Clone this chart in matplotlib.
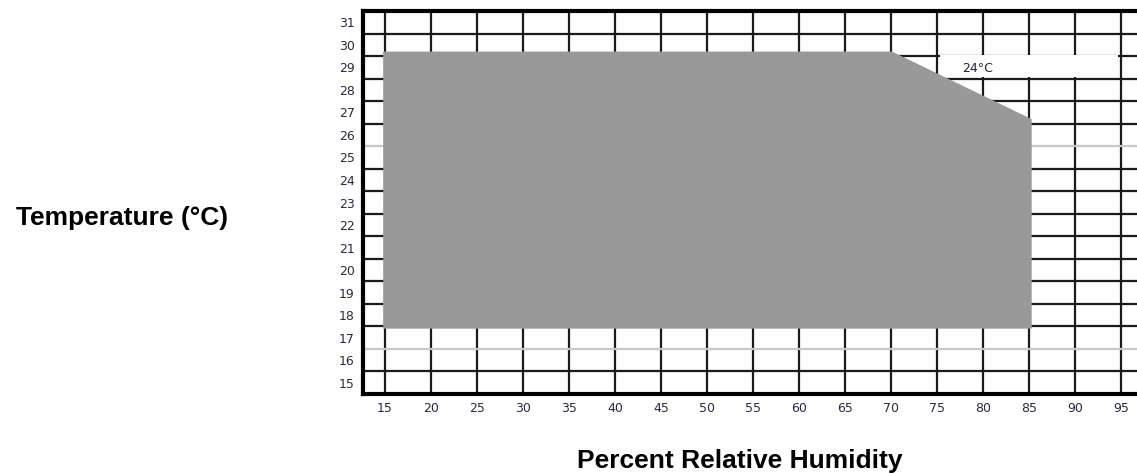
import matplotlib.pyplot as plt
from matplotlib.patches import Polygon, Rectangle

# humidity (%) / temperature (°C) grid
humidity_ticks = list(range(15, 100, 5))
temp_ticks = list(range(15, 32))

# operating envelope (gray area)
env_humidity = [14.8, 70.1, 85.3, 85.3, 14.8]
env_temp = [29.7, 29.7, 26.7, 17.4, 17.4]

label_text = '24°C'
label_pos = (79.4, 28.95)

fig = plt.figure(figsize=(11.37, 4.73), dpi=100)
ax = fig.add_axes([363 / 1137, 1 - 394 / 473, 1 - 363 / 1137, (394 - 11) / 473])
ax.set_xlim(12.6, 96.75)
ax.set_ylim(14.5, 31.5)

# grid lines
for x in humidity_ticks:
    ax.axvline(x, color='#1a1a1a', lw=1.6, zorder=1)
for y in temp_ticks[:-1]:
    c = '#c8c8c8' if (y + 0.5) in (16.5, 25.5) else '#1a1a1a'
    ax.axhline(y + 0.5, color=c, lw=1.6, zorder=1)

ax.add_patch(Polygon(list(zip(env_humidity, env_temp)), closed=True,
                     facecolor='#999999', edgecolor='none', zorder=3))

# white box behind the 24°C note
ax.add_patch(Rectangle((75.3, 28.56), 19.4, 0.99, facecolor='white',
                       edgecolor='none', zorder=2))
ax.text(label_pos[0], label_pos[1], label_text, ha='center', va='center',
        fontsize=9, color='#222233', zorder=4)

ax.set_xticks(humidity_ticks)
ax.set_yticks(temp_ticks)
ax.tick_params(length=0, labelsize=9, labelcolor='#2a2a3a')
ax.tick_params(axis='x', pad=6)
ax.tick_params(axis='y', pad=6)

for side in ['left', 'top', 'bottom']:
    ax.spines[side].set_linewidth(3)
    ax.spines[side].set_color('black')
    ax.spines[side].set_zorder(5)
ax.spines['right'].set_visible(False)

fig.text(122 / 1137, 1 - 225 / 473, 'Temperature (°C)', ha='center', va='baseline',
         fontsize=19, fontweight='bold', family='Liberation Sans')
fig.text(740 / 1137, 1 - 468 / 473, 'Percent Relative Humidity', ha='center',
         va='baseline', fontsize=19, fontweight='bold', family='Liberation Sans')

plt.savefig('out.png', dpi=100)
